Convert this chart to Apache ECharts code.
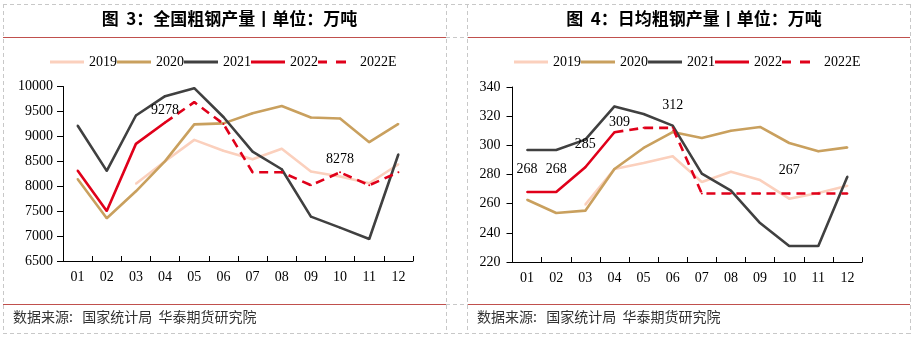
<!DOCTYPE html>
<html>
<head>
<meta charset="utf-8">
<script src="https://cdn.jsdelivr.net/npm/echarts@6/dist/echarts.min.js"></script>
<style>
  html, body { margin: 0; padding: 0; background: #fff; }
  #chart { width: 915px; height: 337px; }
</style>
</head>
<body>
<div id="chart"></div>
<script>
// Month categories shared by both panels
const months = ['01', '02', '03', '04', '05', '06', '07', '08', '09', '10', '11', '12'];
const seriesNames = ['2019', '2020', '2021', '2022', '2022E'];

// Monthly crude steel output (万吨)
const total2019 = [null, null, 8050, 8500, 8930, 8710, 8540, 8750, 8295, 8195, 8060, 8440];
const total2020 = [8146, 7357, 7898, 8503, 9240, 9260, 9465, 9610, 9378, 9358, 8883, 9250];
const total2021 = [9217, 8307, 9418, 9806, 9967, 9388, 8695, 8340, 7390, 7169, 6942, 8642];
const total2022 = [8314, 7504, 8849, 9278, null, null, null, null, null, null, null, null];
const total2022E = [null, null, null, 9278, 9686, 9250, 8280, 8280, 8020, 8278, 8020, 8280];

// Daily average crude steel output (万吨)
const daily2019 = [null, null, 259.3, 283.8, 287.9, 292.5, 274.9, 281.9, 276.2, 263.4, 267.3, 272.3];
const daily2020 = [262.7, 253.6, 255.2, 283.8, 298.2, 309.1, 305, 310, 312.6, 301.6, 295.9, 298.6];
const daily2021 = [296.8, 296.8, 303.9, 326.7, 321.5, 313.5, 280.6, 268.9, 246.7, 231, 231, 278.7];
const daily2022 = [268, 268, 285, 309, null, null, null, null, null, null, null, null];
const daily2022E = [null, null, null, 309, 312, 312, 267, 267, 267, 267, 267, 267];

// Points that carry a value label: [index, distance, offsetX]
const totalLabels2022 = [[3, 4, 0]];
const totalLabels2022E = [[9, 5, 0]];
const dailyLabels2022 = [[0, 15, 0], [1, 15, 0], [2, 15, 0], [3, 2, 5]];
const dailyLabels2022E = [[5, 15, 0], [9, 15, 0]];

const colors = {
  '2019': '#FBD0BD',
  '2020': '#C9A05E',
  '2021': '#404040',
  '2022': '#E0001A',
  '2022E': '#E0001A'
};

const serif = '"Liberation Serif", "Times New Roman", serif';
const cjk = '"Noto Sans CJK SC", "Noto Sans", sans-serif';

// Legend glyphs: a flat bar for solid lines, two short bars for the estimate
const solidIcon = 'path://M0,0 H36 V3 H0 Z';
const dashedIcon = 'path://M0,0 H9 V3 H0 Z M18,0 H28 V3 H18 Z';

function withLabels(values, labels) {
  return values.map((v, i) => {
    const hit = labels.find(l => l[0] === i);
    if (!hit || v == null) return v;
    return {
      value: v,
      label: {
        show: true,
        position: 'top',
        distance: hit[1],
        offset: [hit[2], 0],
        fontFamily: serif,
        fontSize: 14,
        color: '#000',
        formatter: String(v)
      }
    };
  });
}

function lineSeries(name, data, axisIndex) {
  return {
    name: name,
    type: 'line',
    xAxisIndex: axisIndex,
    yAxisIndex: axisIndex,
    data: data,
    symbol: 'circle',
    symbolSize: 2,
    showSymbol: true,
    connectNulls: false,
    animation: false,
    z: name === '2019' ? 1 : 2,
    lineStyle: {
      color: colors[name],
      width: 2.6,
      type: name === '2022E' ? [9, 6] : 'solid'
    },
    itemStyle: { color: colors[name] },
    label: { show: false },
    emphasis: { disabled: true }
  };
}

function xAxisCfg(gridIndex) {
  return {
    type: 'category',
    gridIndex: gridIndex,
    data: months,
    boundaryGap: true,
    axisLine: { lineStyle: { color: '#000', width: 1 } },
    axisTick: { show: true, inside: true, length: 5, lineStyle: { color: '#000' } },
    axisLabel: { fontFamily: serif, fontSize: 14, color: '#000', margin: 9 },
    splitLine: { show: false }
  };
}

function yAxisCfg(gridIndex, min, max, interval, margin) {
  return {
    type: 'value',
    gridIndex: gridIndex,
    min: min,
    max: max,
    interval: interval,
    axisLine: { show: true, lineStyle: { color: '#000', width: 1 } },
    axisTick: { show: true, length: 6, lineStyle: { color: '#000' } },
    axisLabel: {
      fontFamily: serif, fontSize: 14, color: '#000', margin: margin,
      formatter: v => String(v)
    },
    splitLine: { show: false }
  };
}

function legendCfg(left) {
  return {
    data: seriesNames.map(n => ({
      name: n,
      icon: n === '2022E' ? dashedIcon : solidIcon,
      textStyle: n === '2022E' ? { padding: [0, 0, 0, 6] } : {}
    })),
    top: 55,
    left: left,
    padding: 0,
    itemWidth: 34,
    itemHeight: 3,
    itemGap: 0,
    textStyle: { fontFamily: serif, fontSize: 14, color: '#000' },
    selectedMode: false
  };
}

// Panel frame: dashed cell borders, red rules under title and above source
const dash = { stroke: '#C8C8C8', lineWidth: 1, lineDash: [4, 3] };
const rule = { stroke: '#C0504D', lineWidth: 1.2 };
function hLine(x1, x2, y, style) {
  return { type: 'line', silent: true, shape: { x1: x1, y1: y, x2: x2, y2: y }, style: style };
}
function vLine(x, y1, y2, style) {
  return { type: 'line', silent: true, shape: { x1: x, y1: y1, x2: x, y2: y2 }, style: style };
}

const sourceText = '数据来源:   国家统计局  华泰期货研究院';
const frame = [
  hLine(3, 911, 4.5, dash),
  hLine(3, 911, 333.5, dash),
  vLine(3.5, 4, 334, dash),
  vLine(446.5, 4, 334, dash),
  vLine(467.5, 4, 334, dash),
  vLine(910.5, 4, 334, dash),
  hLine(446, 468, 37.5, dash),
  hLine(446, 468, 304.5, dash),
  hLine(3, 446, 37.5, rule),
  hLine(468, 910, 37.5, rule),
  hLine(3, 446, 304.5, rule),
  hLine(468, 910, 304.5, rule),
  {
    type: 'text', silent: true, left: 13, top: 310,
    style: { text: sourceText, font: '14px ' + cjk, fill: '#333' }
  },
  {
    type: 'text', silent: true, left: 477, top: 310,
    style: { text: sourceText, font: '14px ' + cjk, fill: '#333' }
  }
];

const chart = echarts.init(document.getElementById('chart'), null, { renderer: 'canvas' });

const titleStyle = { fontFamily: cjk, fontSize: 17, fontWeight: 'bold', color: '#000' };

chart.setOption({
  backgroundColor: '#fff',
  animation: false,
  title: [
    { text: '图  3：全国粗钢产量丨单位：万吨', left: 224.5, top: 5, textAlign: 'center', textStyle: titleStyle },
    { text: '图  4：日均粗钢产量丨单位：万吨', left: 689, top: 5, textAlign: 'center', textStyle: titleStyle }
  ],
  legend: [legendCfg(50), legendCfg(514)],
  grid: [
    { left: 63, right: 502, top: 86.5, bottom: 76, containLabel: false },
    { left: 512.5, right: 53, top: 87, bottom: 75, containLabel: false }
  ],
  xAxis: [xAxisCfg(0), xAxisCfg(1)],
  yAxis: [
    yAxisCfg(0, 6500, 10000, 500, 10),
    yAxisCfg(1, 220, 340, 20, 12)
  ],
  series: [
    lineSeries('2019', total2019, 0),
    lineSeries('2020', total2020, 0),
    lineSeries('2021', total2021, 0),
    lineSeries('2022', withLabels(total2022, totalLabels2022), 0),
    lineSeries('2022E', withLabels(total2022E, totalLabels2022E), 0),
    lineSeries('2019', daily2019, 1),
    lineSeries('2020', daily2020, 1),
    lineSeries('2021', daily2021, 1),
    lineSeries('2022', withLabels(daily2022, dailyLabels2022), 1),
    lineSeries('2022E', withLabels(daily2022E, dailyLabels2022E), 1)
  ],
  graphic: frame
});
</script>
</body>
</html>
